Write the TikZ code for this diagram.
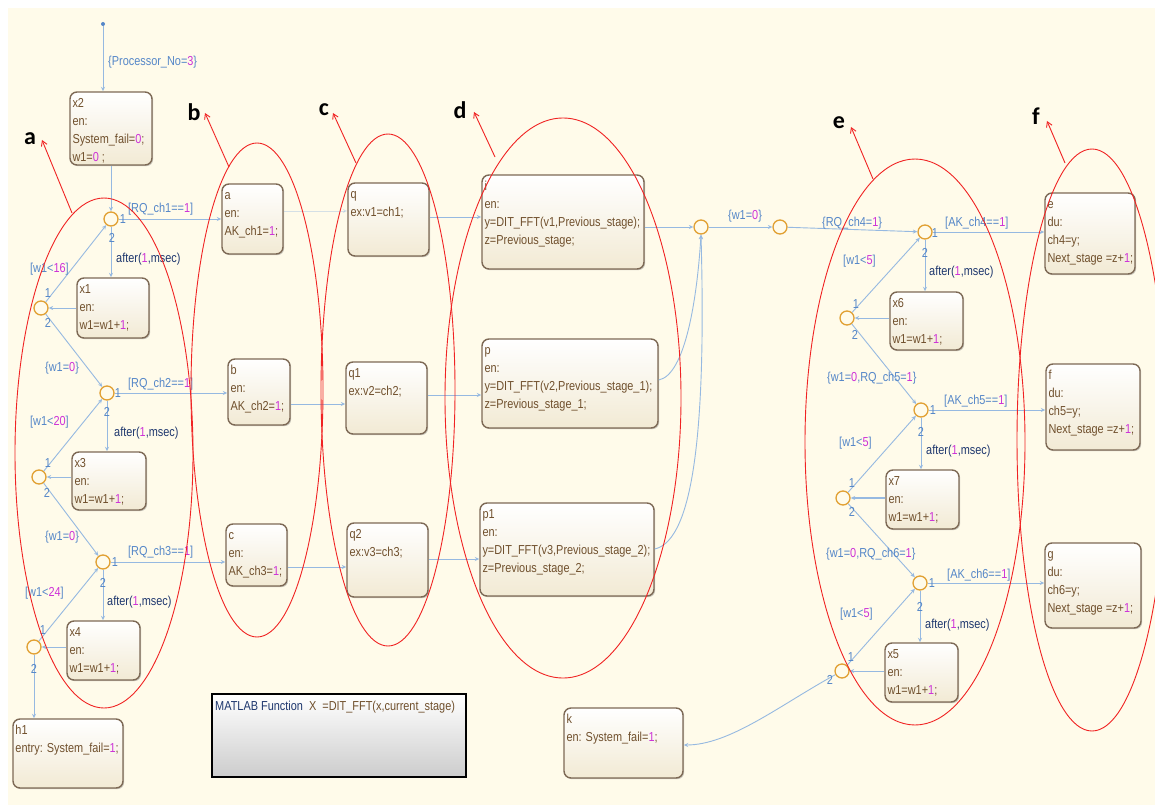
\documentclass[tikz,border=0pt]{standalone}
\usepackage{fontspec}
\setmainfont{Liberation Sans}[FakeStretch=0.84]
\newfontfamily\lblfont{Carlito}
\usetikzlibrary{arrows.meta,shadows}
\definecolor{bgc}{RGB}{255,251,234}
\definecolor{stbrd}{RGB}{125,105,85}
\definecolor{stbot}{RGB}{242,234,212}
\definecolor{sttxt}{RGB}{112,80,45}
\definecolor{numc}{RGB}{205,50,215}
\definecolor{trc}{RGB}{150,185,225}
\definecolor{lblc}{RGB}{85,135,200}
\definecolor{navyc}{RGB}{30,55,110}
\definecolor{jc}{RGB}{225,160,50}
\definecolor{redc}{RGB}{240,35,35}
\newcommand\nm[1]{\textcolor{numc}{#1}}
\newcommand\aft{\textcolor{navyc}{after(}\nm{1}\textcolor{navyc}{,msec)}}
\newcounter{lblc}
\newcommand\lbl[3]{\stepcounter{lblc}\node[tlbl,anchor=base west] (lbl\thelblc) at ({#1},{#2+4.5}) {#3};}
\newcommand\tnum[3]{\stepcounter{lblc}\node[tlbl,anchor=base] (num\thelblc) at ({#1},{#2+4.5}) {#3};}
\newcommand\stbox[6]{\node[stbox,minimum width={#4-#2},minimum height={#5-#3}] (#1) at ({(#2+#4)/2},{(#3+#5)/2}) {};
 \node[sttext,anchor=north west] (#1t) at ([xshift=3pt,yshift=-3.4pt]#1.north west) {\strut #6};}
\tikzset{
 stbox/.style={rectangle, rounded corners=7pt, draw=stbrd, line width=1.4pt, top color=white, bottom color=stbot, inner sep=0pt, drop shadow={shadow xshift=1.2pt,shadow yshift=-1.2pt,opacity=0.35,fill=black!60}},
 sttext/.style={inner sep=0pt, align=left, text=sttxt, font=\fontsize{13}{18}\selectfont},
 tlbl/.style={inner sep=0pt, text=lblc, font=\fontsize{13}{18}\selectfont},
 junc/.style={circle, draw=jc, line width=1.3pt, minimum size=14pt, inner sep=0pt},
 tr/.style={draw=trc, line width=0.9pt, -{Stealth[open,length=4.5pt,width=4pt]}},
 redl/.style={draw=redc, line width=0.9pt},
 redar/.style={redl, -{Straight Barb[length=5pt,width=6pt]}},
 letter/.style={inner sep=0pt, font=\lblfont\bfseries\fontsize{24}{24}\selectfont},
}
\begin{document}
\begin{tikzpicture}[x=1pt,y=-1pt]
\useasboundingbox (0,0) rectangle (1155,805);
\fill[white] (0,0) rectangle (1155,805);
\fill[bgc] (8,8) rectangle (1155,805);

% states
\stbox{x2}{70}{92}{152}{165}{x2\\en:\\System\_fail=\nm{0};\\w1=\nm{0} ;}
\stbox{a}{222}{184}{283}{254}{a\\en:\\AK\_ch1=\nm{1};}
\stbox{x1}{77}{278}{149}{338}{x1\\en:\\w1=w1+\nm{1};}
\stbox{b}{228}{359}{290}{425}{b\\en:\\AK\_ch2=\nm{1};}
\stbox{x3}{72}{452}{146}{510}{x3\\en:\\w1=w1+\nm{1};}
\stbox{c}{226}{524}{287}{586}{c\\en:\\AK\_ch3=\nm{1};}
\stbox{x4}{67}{621}{140}{680}{x4\\en:\\w1=w1+\nm{1};}
\stbox{h1}{13}{719}{123}{788}{h1\\entry: System\_fail=\nm{1};}
\stbox{q}{348}{183}{429}{256}{q\\ex:v1=ch1;}
\stbox{q1}{346}{362}{427}{434}{q1\\ex:v2=ch2;}
\stbox{q2}{347}{523}{428}{597}{q2\\ex:v3=ch3;}
\stbox{i}{482}{175}{644}{269}{i\\en:\\y=DIT\_FFT(v1,Previous\_stage);\\z=Previous\_stage;}
\stbox{p}{482}{339}{658}{428}{p\\en:\\y=DIT\_FFT(v2,Previous\_stage\_1);\\z=Previous\_stage\_1;}
\stbox{p1}{480}{503}{654}{596}{p1\\en:\\y=DIT\_FFT(v3,Previous\_stage\_2);\\z=Previous\_stage\_2;}
\stbox{e}{1045}{193}{1135}{274}{e\\du:\\ch4=y;\\Next\_stage =z+\nm{1};}
\stbox{f}{1046}{364}{1140}{450}{f\\du:\\ch5=y;\\Next\_stage =z+\nm{1};}
\stbox{g}{1045}{543}{1141}{628}{g\\du:\\ch6=y;\\Next\_stage =z+\nm{1};}
\stbox{x6}{890}{292}{963}{350}{x6\\en:\\w1=w1+\nm{1};}
\stbox{x7}{886}{470}{959}{529}{x7\\en:\\w1=w1+\nm{1};}
\stbox{x5}{885}{643}{958}{702}{x5\\en:\\w1=w1+\nm{1};}
\stbox{k}{564}{708}{683}{778}{k\\en: System\_fail=\nm{1};}

% MATLAB function
\node[draw=black, line width=2pt, top color=white, bottom color=black!20, minimum width=254, minimum height=83, inner sep=0pt] (mf) at (339,735.5) {};
\node[anchor=base west, inner sep=0pt, font=\fontsize{13}{18}\selectfont] (mft) at (215,710.5) {\textcolor{navyc}{MATLAB Function}\ \ \textcolor{sttxt}{X\ \ =DIT\_FFT(x,current\_stage)}};

% junctions
\node[junc] (J1) at (111,219) {};
\node[junc] (J2) at (41,308) {};
\node[junc] (J3) at (107,393) {};
\node[junc] (J4) at (39,477) {};
\node[junc] (J5) at (103,562) {};
\node[junc] (J6) at (34,647) {};
\node[junc] (J7) at (701,227) {};
\node[junc] (J8) at (780,227) {};
\node[junc] (J9) at (925,232) {};
\node[junc] (J10) at (847,318) {};
\node[junc] (J11) at (921,410) {};
\node[junc] (J12) at (843,498) {};
\node[junc] (J13) at (920,583) {};
\node[junc] (J14) at (842,671) {};
\node[circle, fill=lblc, inner sep=0pt, minimum size=4pt] (dot) at (103,24) {};

% transitions left
\draw[tr] (dot) -- (dot |- x2.north);
\draw[tr] (J1 |- x2.south) -- (J1);
\draw[tr] (J1) -- (J1 -| a.west);
\draw[tr] (J1) -- (J1 |- x1.north);
\draw[tr] (x1.west |- J2) -- (J2);
\draw[tr] (J2) -- (J1);
\draw[tr] (J2) -- (J3);
\draw[tr] (J3) -- (J3 -| b.west);
\draw[tr] (J3) -- (J3 |- x3.north);
\draw[tr] (x3.west |- J4) -- (J4);
\draw[tr] (J4) -- (J3);
\draw[tr] (J4) -- (J5);
\draw[tr] (J5) -- (J5 -| c.west);
\draw[tr] (J5) -- (J5 |- x4.north);
\draw[tr] (x4.west |- J6) -- (J6);
\draw[tr] (J6) -- (J5);
\draw[tr] (J6) -- (J6 |- h1.north);
% middle
\draw[tr, opacity=0.4] (a.east |- 0,211) -- (q.west |- 0,211);
\draw[tr] (b.east |- 0,404) -- (q1.west |- 0,404);
\draw[tr] (c.east |- 0,567) -- (q2.west |- 0,567);
\draw[tr] (q.east |- 0,217) -- (i.west |- 0,217);
\draw[tr] (q1.east |- 0,395) -- (p.west |- 0,395);
\draw[tr] (q2.east |- 0,559) -- (p1.west |- 0,559);
\draw[tr] (i.east |- J7) -- (J7);
\draw[tr] (p.east |- 0,380) .. controls (685,375) and (697,300) .. (J7.south);
\draw[tr] (p1.east |- 0,549) .. controls (695,540) and (706,420) .. (J7.south);
\draw[tr] (J7) -- (J8);
\draw[tr] (J8) -- (J9);
% right
\draw[tr] (J9) -- (J9 -| e.west);
\draw[tr] (J9) -- (J9 |- x6.north);
\draw[tr] (x6.west |- J10) -- (J10);
\draw[tr] (J10) -- (J9);
\draw[tr] (J10) -- (J11);
\draw[tr] (J11) -- (J11 -| f.west);
\draw[tr] (J11) -- (J11 |- x7.north);
\draw[tr, line width=1.6pt] (x7.west |- J12) -- (J12);
\draw[tr] (J12) -- (J11);
\draw[tr] (J12) -- (J13);
\draw[tr] (J13) -- (J13 -| g.west);
\draw[tr] (J13) -- (J13 |- x5.north);
\draw[tr] (x5.west |- J14) -- (J14);
\draw[tr] (J14) -- (J13);
\draw[tr] (J14) .. controls (780,705) and (730,745) .. (k.east |- 0,745);

% labels left
\lbl{108}{61}{\{Processor\_No=\nm{3}\}}
\lbl{128}{208}{[RQ\_ch1==\nm{1}]}
\tnum{123}{219}{1} \tnum{112}{238}{2}
\lbl{116}{258}{\aft}
\lbl{30}{268}{[w1<\nm{16}]}
\tnum{48}{293}{1} \tnum{48}{323}{2}
\lbl{45}{367}{\{w1=\nm{0}\}}
\lbl{128}{383}{[RQ\_ch2==\nm{1}]}
\tnum{118}{393}{1} \tnum{107}{412}{2}
\lbl{114}{432}{\aft}
\lbl{30}{421}{[w1<\nm{20}]}
\tnum{48}{463}{1} \tnum{47}{493}{2}
\lbl{45}{536}{\{w1=\nm{0}\}}
\lbl{128}{551}{[RQ\_ch3==\nm{1}]}
\tnum{115}{562}{1} \tnum{103}{583}{2}
\lbl{107}{601}{\aft}
\lbl{25}{592}{[w1<\nm{24}]}
\tnum{43}{630}{1} \tnum{34}{669}{2}
% labels right
\lbl{728}{215}{\{w1=\nm{0}\}}
\lbl{822}{222}{\{RQ\_ch4=\nm{1}\}}
\lbl{945}{222}{[AK\_ch4==\nm{1}]}
\tnum{935}{233}{1} \tnum{925}{253}{2}
\lbl{929}{271}{\aft}
\lbl{843}{260}{[w1<\nm{5}]}
\tnum{856}{304}{1} \tnum{855}{335}{2}
\lbl{827}{377}{\{w1=\nm{0},RQ\_ch5=\nm{1}\}}
\lbl{944}{400}{[AK\_ch5==\nm{1}]}
\tnum{933}{410}{1} \tnum{921}{432}{2}
\lbl{926}{450}{\aft}
\lbl{839}{442}{[w1<\nm{5}]}
\tnum{852}{483}{1} \tnum{852}{512}{2}
\lbl{826}{553}{\{w1=\nm{0},RQ\_ch6=\nm{1}\}}
\lbl{947}{574}{[AK\_ch6==\nm{1}]}
\tnum{932}{583}{1} \tnum{920}{607}{2}
\lbl{925}{624}{\aft}
\lbl{840}{613}{[w1<\nm{5}]}
\tnum{851}{657}{1} \tnum{830}{680}{2}

% red annotations
\draw[redl] (104,453) ellipse [x radius=89, y radius=255];
\draw[redl] (257,390) ellipse [x radius=66, y radius=247];
\draw[redl] (388,390) ellipse [x radius=67, y radius=256];
\draw[redl] (563,398) ellipse [x radius=118, y radius=280];
\draw[redl] (915,442) ellipse [x radius=110, y radius=283];
\draw[redl] (1092,440) ellipse [x radius=75, y radius=291];
\coordinate (ra0) at (72,213); \coordinate (ra1) at (42,140);
\coordinate (rb0) at (229,167); \coordinate (rb1) at (205,113);
\coordinate (rc0) at (356,163); \coordinate (rc1) at (333,113);
\coordinate (rd0) at (495,157); \coordinate (rd1) at (474,112);
\coordinate (re0) at (873,179); \coordinate (re1) at (851,127);
\coordinate (rf0) at (1065,163); \coordinate (rf1) at (1047,121);
\draw[redar] (ra0) -- (ra1);
\draw[redar] (rb0) -- (rb1);
\draw[redar] (rc0) -- (rc1);
\draw[redar] (rd0) -- (rd1);
\draw[redar] (re0) -- (re1);
\draw[redar] (rf0) -- (rf1);
\node[letter] (La) at (30,139) {a};
\node[letter] (Lb) at (194,112) {b};
\node[letter] (Lc) at (324,110) {c};
\node[letter] (Ld) at (460,110) {d};
\node[letter] (Le) at (839,123) {e};
\node[letter] (Lf) at (1036,116) {f};
\end{tikzpicture}
\end{document}
